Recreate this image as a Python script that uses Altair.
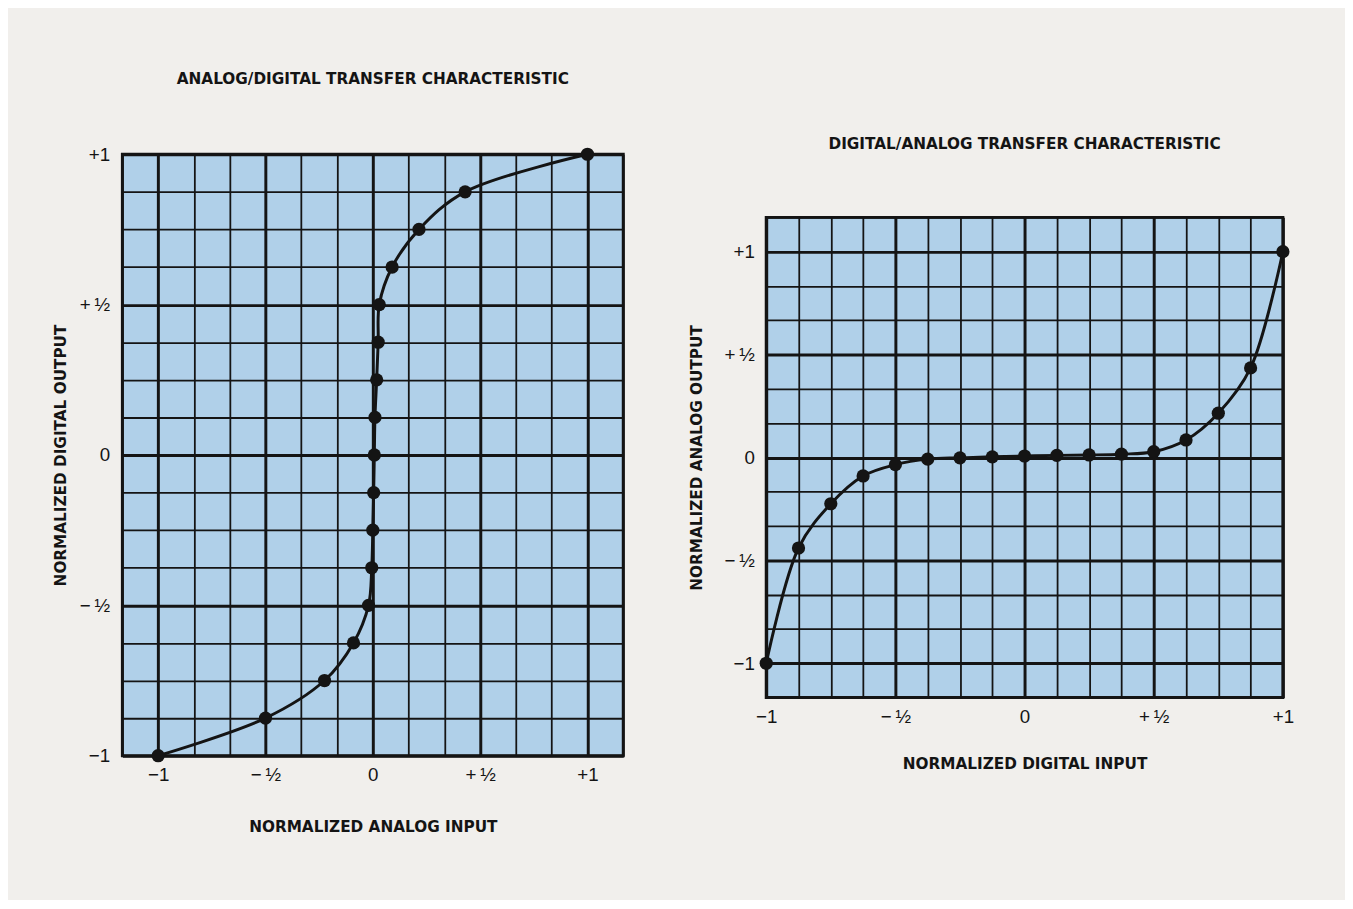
import altair as alt
import pandas as pd

INK = "#141414"
BLUE = "#b0d0e9"
PAPER = "#f1efec"
LABEL_FONT = "Liberation Sans"
TITLE_FONT = "DejaVu Sans"

# ---------------- data ----------------
# Left panel: analog/digital transfer characteristic
ad_digital_output = [-1.0, -0.875, -0.75, -0.625, -0.5, -0.375, -0.25, -0.125, 0.0,
                     0.125, 0.25, 0.375, 0.5, 0.625, 0.75, 0.875, 1.0]
ad_analog_input = [-1.0, -0.50, -0.225, -0.09, -0.02, -0.005, 0.0, 0.004, 0.007,
                   0.01, 0.018, 0.025, 0.03, 0.09, 0.215, 0.43, 1.0]

# Right panel: digital/analog transfer characteristic
da_digital_input = [-1.0, -0.875, -0.75, -0.625, -0.5, -0.375, -0.25, -0.125, 0.0,
                    0.125, 0.25, 0.375, 0.5, 0.625, 0.75, 0.875, 1.0]
da_analog_output = [-1.0, -0.44, -0.225, -0.09, -0.035, -0.008, -0.002, 0.003, 0.007,
                    0.01, 0.012, 0.016, 0.028, 0.085, 0.215, 0.435, 1.0]

# tick labels
tick_values = [-1, -0.5, 0, 0.5, 1]
tick_labels = ["\u22121", "\u2212\u2009\u00bd", "0", "+\u2009\u00bd", "+1"]

# grid positions (cells of 1/6 and 1/8 of a unit)
sixths = [i / 6 for i in range(-7, 8)]
eighths = [i / 8 for i in range(-8, 9)]

label_expr = " : ".join(
    f"abs(datum.value - ({v})) < 0.001 ? '{l}'" for v, l in zip(tick_values, tick_labels)
) + " : ''"

grid_width = {"condition": {"test": "abs(datum.value * 2 - round(datum.value * 2)) < 0.001",
                            "value": 3.0},
              "value": 1.8}


def make_axis(values, title, label_padding, title_padding):
    return alt.Axis(
        values=values, title=title, grid=True, gridColor=INK, gridOpacity=1,
        gridWidth=grid_width, domain=False, ticks=False, tickSize=0,
        labelExpr=label_expr, labelFont=LABEL_FONT, labelFontSize=19, labelColor=INK,
        labelPadding=label_padding, labelOverlap=False, labelFlush=False,
        titleFont=TITLE_FONT, titleFontSize=15.5, titleFontWeight="bold", titleColor=INK,
        titlePadding=title_padding,
    )


def panel(xs, ys, xdom, ydom, xgrid, ygrid, title, xtitle, ytitle, w, h,
          title_offset, x_title_pad, y_label_pad, y_title_pad):
    df = pd.DataFrame({"x": xs, "y": ys, "idx": list(range(len(xs)))})
    x = alt.X("x:Q", scale=alt.Scale(domain=xdom, nice=False, zero=False),
              axis=make_axis(xgrid, xtitle, 10, x_title_pad))
    y = alt.Y("y:Q", scale=alt.Scale(domain=ydom, nice=False, zero=False),
              axis=make_axis(ygrid, ytitle, y_label_pad, y_title_pad))
    base = alt.Chart(df)
    line = base.mark_line(interpolate="catmull-rom", color=INK, strokeWidth=3).encode(
        x=x, y=y, order="idx:Q")
    dots = base.mark_circle(size=180, color=INK, opacity=1).encode(x=x, y=y)
    return alt.layer(line, dots).properties(
        width=w, height=h,
        title=alt.TitleParams(title, font=TITLE_FONT, fontSize=15.5, fontWeight="bold",
                              color=INK, anchor="middle", frame="group",
                              offset=title_offset),
    )


left = panel(ad_analog_input, ad_digital_output, [-7 / 6, 7 / 6], [-1, 1], sixths, eighths,
             "ANALOG/DIGITAL TRANSFER CHARACTERISTIC", "NORMALIZED ANALOG INPUT",
             "NORMALIZED DIGITAL OUTPUT", 508, 610, 59, 36, 13, 11)

right = panel(da_digital_input, da_analog_output, [-1, 1], [-7 / 6, 7 / 6], eighths, sixths,
              "DIGITAL/ANALOG TRANSFER CHARACTERISTIC", "NORMALIZED DIGITAL INPUT",
              "NORMALIZED ANALOG OUTPUT", 524, 487, 57, 31, 12, 20)

chart = alt.hconcat(left, right, spacing=63, center=True).properties(
    padding={"left": 44, "top": 57, "right": 50, "bottom": 58},
    background=PAPER,
).configure_view(fill=BLUE, stroke=INK, strokeWidth=3)

chart.save("out.html", embed_options={"renderer": "svg", "actions": False})
